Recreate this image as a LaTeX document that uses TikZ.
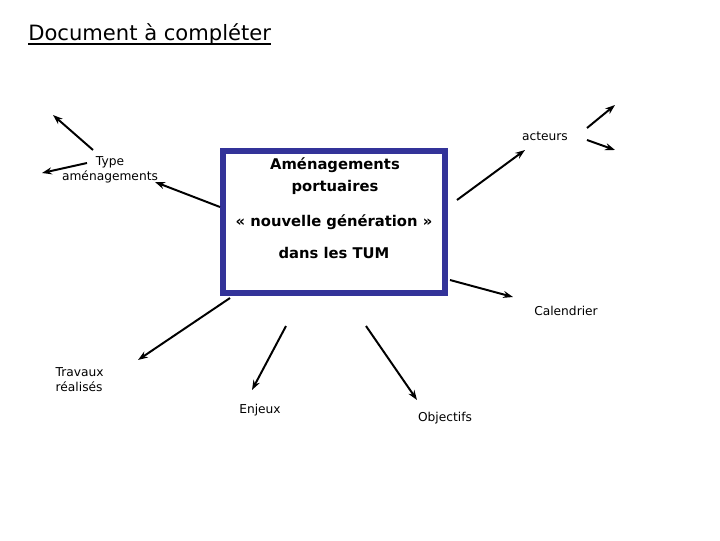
\documentclass[tikz,border=0pt]{standalone}
\usepackage{fontspec}
\setmainfont{DejaVu Sans}
\usepackage{tikz}
\usetikzlibrary{positioning,arrows.meta,calc}
\definecolor{boxblue}{HTML}{333399}

\begin{document}
\begin{tikzpicture}[
  x=0.025cm, y=-0.025cm,
  font=\fontsize{8.7}{10.5}\selectfont,
  mainbox/.style={
    draw=boxblue, line width=4.5pt, fill=white,
    minimum width=5.55cm, minimum height=3.55cm,
    inner sep=0pt, align=center,
  },
  lbl/.style={inner sep=1pt, align=center},
  boxtext/.style={lbl, font=\fontsize{10.5}{15.5}\selectfont\bfseries},
  link/.style={draw=black, line width=1.4pt,
    -{Stealth[length=7pt,width=5pt]}},
]
\useasboundingbox (0,0) rectangle (720,540);

% === TITLE ===
\node[anchor=base west, inner sep=0pt,
  font=\fontsize{15}{18}\selectfont] (title) at (28,40) {Document à compléter};
\draw[line width=1.6pt] ($(title.base west)+(0,4)$) -- ($(title.base east)+(0,4)$);

% === CENTER BOX ===
\node[mainbox] (main) at (334,222) {};
\node[boxtext] (l1) at (335,176) {Aménagements\\portuaires};
\node[boxtext] (l2) at (334,222) {« nouvelle génération »};
\node[boxtext] (l3) at (334,253) {dans les TUM};

% === LABELS ===
\node[lbl] (type) at (110,170) {Type\\aménagements};
\node[lbl] (act) at (545,136) {acteurs};
\node[lbl] (cal) at (566,311) {Calendrier};
\node[lbl, align=left, anchor=west] (trav) at (54,380) {Travaux\\réalisés};
\node[lbl] (enj) at (260,410) {Enjeux};
\node[lbl] (obj) at (445,418) {Objectifs};

% === FREE ENDS ===
\coordinate (t1a) at (93,150);  \coordinate (t1b) at (53,115);
\coordinate (t2a) at (87,163);  \coordinate (t2b) at (42,173);
\coordinate (t3a) at (220,207); \coordinate (t3b) at (155,182);
\coordinate (a0a) at (457,200); \coordinate (a0b) at (525,150);
\coordinate (a1a) at (587,128); \coordinate (a1b) at (615,105);
\coordinate (a2a) at (587,140); \coordinate (a2b) at (615,150);
\coordinate (c0a) at (450,280); \coordinate (c0b) at (513,297);
\coordinate (w0a) at (230,298); \coordinate (w0b) at (138,360);
\coordinate (e0a) at (286,326); \coordinate (e0b) at (252,390);
\coordinate (o0a) at (366,326); \coordinate (o0b) at (417,400);

% === ARROWS ===
\draw[link] (t1a) -- (t1b);
\draw[link] (t2a) -- (t2b);
\draw[link] (t3a) -- (t3b);
\draw[link] (a0a) -- (a0b);
\draw[link] (a1a) -- (a1b);
\draw[link] (a2a) -- (a2b);
\draw[link] (c0a) -- (c0b);
\draw[link] (w0a) -- (w0b);
\draw[link] (e0a) -- (e0b);
\draw[link] (o0a) -- (o0b);

\end{tikzpicture}
\end{document}
